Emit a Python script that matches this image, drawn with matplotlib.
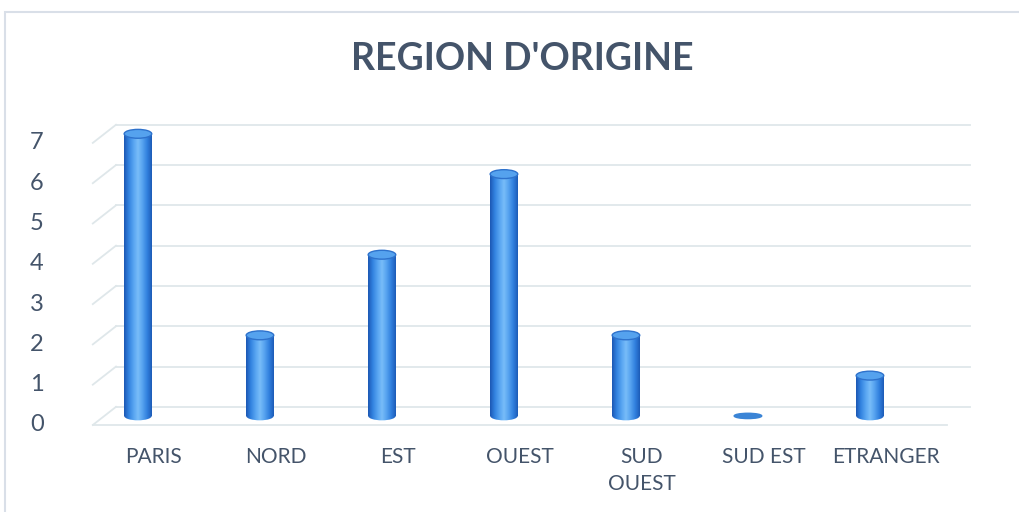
import numpy as np
import matplotlib.pyplot as plt
from matplotlib.patches import Ellipse, Rectangle
from matplotlib.colors import LinearSegmentedColormap

# Data
regions = ['PARIS', 'NORD', 'EST', 'OUEST', 'SUD\nOUEST', 'SUD EST', 'ETRANGER']
counts = [7, 2, 4, 6, 2, 0, 1]
y_ticks = [0, 1, 2, 3, 4, 5, 6, 7]

text_col = '#44546a'
grid_col = '#dfe7ea'
plt.rcParams['font.family'] = ['Lato', 'DejaVu Sans']

fig = plt.figure(figsize=(10.2, 5.12), dpi=100)
ax = fig.add_axes([90 / 1020, 80 / 512, 885 / 1020, 312 / 512])

# 3D depth offset of the back wall (data units)
dx, dy = 0.19, 0.45
x0, x1 = -0.37, 6.82

# gridlines on the back wall + diagonals on the side wall
for v in y_ticks:
    ax.plot([x0 + dx, x1], [v + dy, v + dy], color=grid_col, lw=1.3, zorder=1)
    ax.plot([x0, x0 + dx], [v, v + dy], color=grid_col, lw=1.3, zorder=1)
# front edge of the floor
ax.plot([x0, x1 - dx], [0, 0], color=grid_col, lw=1.3, zorder=1)

# cylinders
body = LinearSegmentedColormap.from_list(
    'cyl', ['#1c58b4', '#3282e0', '#56a3f0', '#78bdf9', '#56a2ef', '#3180de', '#1d5cb8'])
grad = np.linspace(0, 1, 100).reshape(1, -1)
hw, eh = 0.113, 0.22
for i, v in enumerate(counts):
    yb = dy / 2
    yt = v + dy / 2
    if v == 0:
        ax.add_patch(Ellipse((i, yb), 2 * hw, eh * 0.6, color='#3a84d6', zorder=3))
        continue
    rect = Rectangle((i - hw, yb), 2 * hw, yt - yb, transform=ax.transData)
    im = ax.imshow(grad, cmap=body, extent=[i - hw, i + hw, yb, yt],
                   aspect='auto', zorder=3)
    im.set_clip_path(rect)
    bot = Ellipse((i, yb), 2 * hw, eh, transform=ax.transData)
    im2 = ax.imshow(grad, cmap=body, extent=[i - hw, i + hw, yb - eh, yb + eh],
                    aspect='auto', zorder=3)
    im2.set_clip_path(bot)
    ax.add_patch(Ellipse((i, yt), 2 * hw, eh, facecolor='#55a2ee',
                         edgecolor='#2e72cc', lw=1, zorder=4))

# tick labels
for v in y_ticks:
    ax.text(-0.83, v, str(v), ha='center', va='center', fontsize=17,
            color=text_col, clip_on=False)
for i, r in enumerate(regions):
    ax.text(i + 0.13, -0.55, r, ha='center', va='top', fontsize=15,
            color=text_col, linespacing=1.45, clip_on=False)

ax.set_xlim(-0.393, 6.861)
ax.set_ylim(-0.174, 7.568)
ax.axis('off')

fig.text(522 / 1020, 1 - 59 / 512, "REGION D'ORIGINE", ha='center', va='center',
         fontsize=27, fontweight='bold', color=text_col)

# chart border
fig.patches.append(Rectangle((5 / 1020, -0.1), 2, (500 / 512) + 0.1, fill=False,
                             edgecolor='#d9dfe8', lw=1.5, transform=fig.transFigure))

fig.savefig('out.png', dpi=100)
